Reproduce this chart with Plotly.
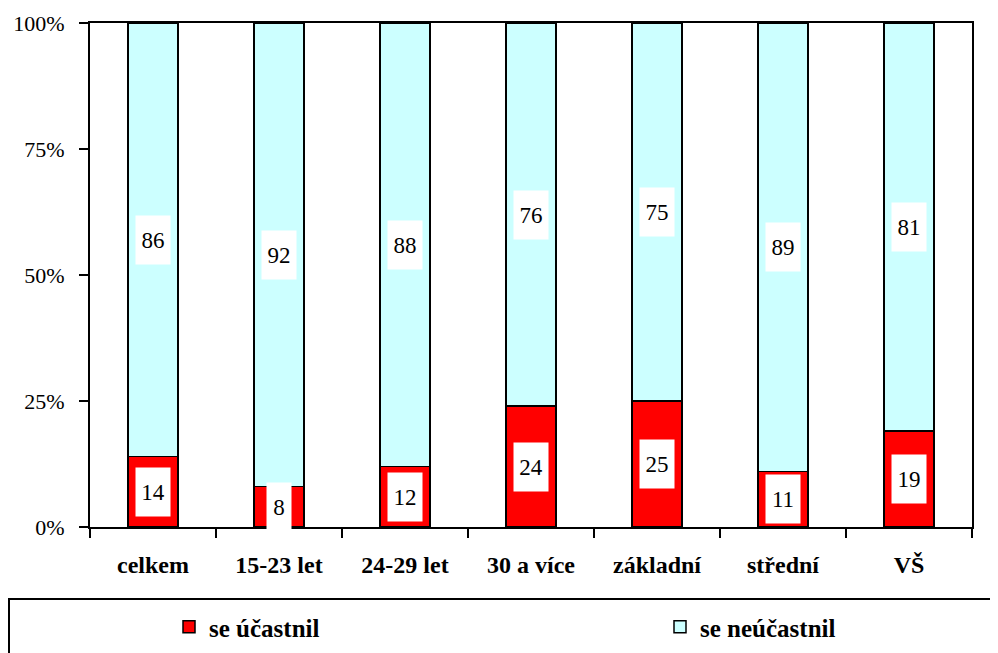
import plotly.graph_objects as go

categories = ["celkem", "15-23 let", "24-29 let", "30 a více", "základní", "střední", "VŠ"]
ucastnil = [14, 8, 12, 24, 25, 11, 19]
neucastnil = [86, 92, 88, 76, 75, 89, 81]
y_ticks = [0, 25, 50, 75, 100]

# the page body adds an 8px offset, so the figure is drawn 8px smaller
OFF = 8
W, H = 998 - OFF, 653 - OFF
L, R, T, B = 90 - OFF, 26, 23 - OFF, 126
serif = "Liberation Serif, Times New Roman, serif"

fig = go.Figure()
fig.add_trace(go.Bar(x=categories, y=ucastnil, name="se účastnil", legend="legend",
                     marker=dict(color="#FF0000", line=dict(color="black", width=1.5))))
fig.add_trace(go.Bar(x=categories, y=neucastnil, name="se neúčastnil", legend="legend2",
                     marker=dict(color="#CCFFFF", line=dict(color="black", width=1.5))))

# value labels in white boxes at the middle of each segment
for c, a, b in zip(categories, ucastnil, neucastnil):
    for val, mid in ((a, a / 2), (b, a + b / 2)):
        txt = str(val)
        fig.add_annotation(x=c, y=mid, text=txt, showarrow=False, bgcolor="white",
                           width=10 * len(txt) + 12, height=46,
                           font=dict(family=serif, size=23, color="black"))

# screen pixel -> paper coords
px = lambda p: (p - OFF - L) / (W - L - R)
py = lambda p: (H - B - (p - OFF)) / (H - T - B)
# legend frame
fig.add_shape(type="rect", xref="paper", yref="paper",
              x0=px(9), x1=px(1010), y0=py(670), y1=py(599),
              line=dict(color="black", width=2), fillcolor="rgba(0,0,0,0)")

leg_font = dict(family=serif, size=25, color="black", weight="bold")
fig.update_layout(
    barmode="stack", bargap=0.6, width=W, height=H, showlegend=True,
    margin=dict(l=L, r=R, t=T, b=B, autoexpand=False),
    plot_bgcolor="white", paper_bgcolor="white",
    font=dict(family=serif, size=22, color="black"),
    legend=dict(x=px(169), xanchor="left", y=py(627), yanchor="middle",
                font=leg_font, bgcolor="rgba(0,0,0,0)"),
    legend2=dict(x=px(660), xanchor="left", y=py(627), yanchor="middle",
                 font=leg_font, bgcolor="rgba(0,0,0,0)"),
)
fig.update_xaxes(showline=True, linecolor="black", linewidth=2, mirror=True,
                 ticks="outside", tickson="boundaries", ticklen=9, tickwidth=2, tickcolor="black",
                 ticklabelstandoff=15,
                 tickfont=dict(family=serif, size=24, color="black", weight="bold"))
fig.update_yaxes(range=[0, 100], tickvals=y_ticks, ticktext=[f"{v}%" for v in y_ticks],
                 showgrid=False, showline=True, linecolor="black", linewidth=2, mirror=True,
                 ticks="outside", ticklen=9, tickwidth=2, tickcolor="black",
                 ticklabelstandoff=10, zeroline=False,
                 tickfont=dict(family=serif, size=22, color="black"))

fig.write_html("out.html")
